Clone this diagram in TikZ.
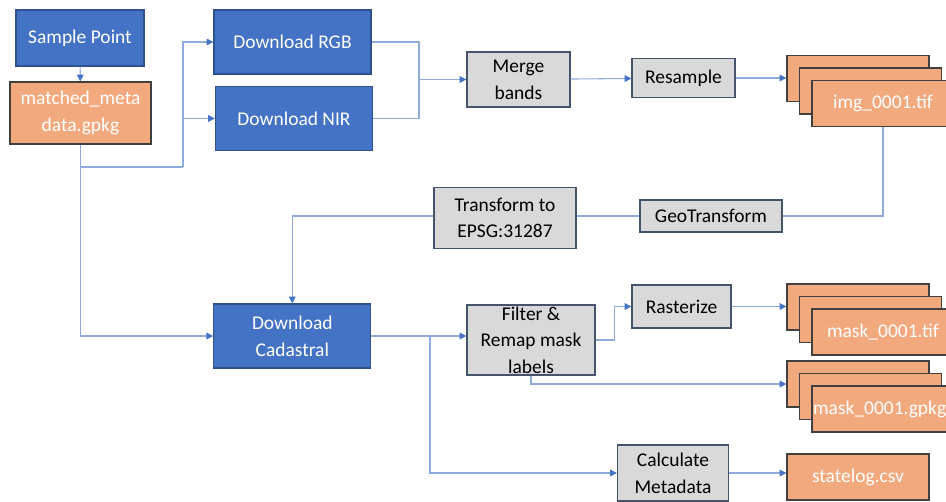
\documentclass[tikz,border=0pt]{standalone}
\usepackage{fontspec}
\setmainfont{Carlito}
\usetikzlibrary{positioning, arrows.meta}

\definecolor{bluebox}{HTML}{4472C4}
\definecolor{blueedge}{HTML}{2F528F}
\definecolor{filebox}{HTML}{F2A97E}
\definecolor{fileedge}{HTML}{404040}
\definecolor{procbox}{HTML}{D9D9D9}
\definecolor{procedge}{HTML}{44546A}
\definecolor{linec}{HTML}{8FAADC}
\definecolor{tipc}{HTML}{4472C4}

\begin{document}
\begin{tikzpicture}[
  x=0.75pt, y=-0.75pt,
  base/.style={draw, line width=1pt, inner sep=0pt, align=center, font=\fontsize{14.6}{20}\selectfont},
  src/.style={base, fill=bluebox, draw=blueedge, text=white},
  proc/.style={base, fill=procbox, draw=procedge, text=black},
  file/.style={base, fill=filebox, draw=fileedge, text=white, minimum width=106.5pt, minimum height=34.5pt},
  arr/.style={draw=linec, line width=0.8pt, -{Triangle[length=5pt, width=5pt, color=tipc]}},
  ln/.style={draw=linec, line width=0.8pt}
]
  \useasboundingbox (0,0) rectangle (946,501);

  % inputs
  \node[src, minimum width=96pt, minimum height=42pt] (sp) at (80,38) {Sample Point};
  \node[file, minimum width=105.75pt, minimum height=46.5pt] (meta) at (80.5,113) {matched\_meta\\data.gpkg};
  \node[src, minimum width=117.75pt, minimum height=48pt] (rgb) at (292.5,42) {Download RGB};
  \node[src, minimum width=117.75pt, minimum height=48pt] (nir) at (294,118.5) {Download NIR};
  \node[src, minimum width=117.75pt, minimum height=48pt] (cad) at (292.3,336) {Download\\Cadastral};

  % processing steps
  \node[proc, minimum width=77.25pt, minimum height=41.25pt] (merge) at (518.5,79.5) {Merge\\bands};
  \node[proc, minimum width=77.25pt, minimum height=29.25pt] (resamp) at (683.5,78) {Resample};
  \node[proc, minimum width=106.5pt, minimum height=45.75pt] (epsg) at (505,218) {Transform to\\EPSG:31287};
  \node[proc, minimum width=106.5pt, minimum height=24pt] (geo) at (711,216) {GeoTransform};
  \node[proc, minimum width=96pt, minimum height=52.5pt] (filt) at (531,340) {Filter \&\\Remap mask\\labels};
  \node[proc, minimum width=74.25pt, minimum height=32.25pt] (rast) at (681.5,306.5) {Rasterize};
  \node[proc, minimum width=83.25pt, minimum height=42pt] (calc) at (673,473) {Calculate\\Metadata};

  % outputs (stacked files)
  \node[file] (img3) at (858,78.5) {};
  \node[file] (img2) at (870.5,91) {};
  \node[file] (img1) at (883,103.5) {img\_0001.tif};
  \node[file] (mt3) at (858,307) {};
  \node[file] (mt2) at (870.5,319.5) {};
  \node[file] (mt1) at (883,332) {mask\_0001.tif};
  \node[file] (mg3) at (858,384) {};
  \node[file] (mg2) at (870.5,396.5) {};
  \node[file] (mg1) at (883,409) {mask\_0001.gpkg\hspace*{5pt}};
  \node[file] (csv) at (858,477) {statelog.csv};

  \coordinate (split) at (80,167);
  \coordinate (fork) at (183,167);
  \coordinate (join) at (419,79.5);
  \coordinate (calcsplit) at (430,336);

  \draw[arr] (sp) -- (meta);
  \draw[arr] (meta.south) |- (cad.west);
  \draw[ln] (split) -- (fork);
  \draw[arr] (fork) |- (rgb.west);
  \draw[arr] (fork) |- (nir.west);
  \draw[ln] (rgb.east) -| (join);
  \draw[ln] (nir.east) -| (join);
  \draw[arr] (join) -- (merge.west);
  \draw[arr] (merge) -- (resamp);
  \draw[arr] (resamp.east) -- (img3.west |- resamp.east);
  \draw[ln] (img1.south) |- (geo.east);
  \draw[ln] (geo.west) -- (epsg.east |- geo.west);
  \draw[arr] (epsg.west |- geo.west) -| (cad.north);
  \draw[arr] (cad.east) -- (filt.west |- cad.east);
  \draw[arr] (calcsplit) |- (calc.west);
  \draw[arr] (filt.east) -- ++(19,0) |- (rast.west);
  \draw[arr] (rast.east) -- (mt3.west |- rast.east);
  \draw[arr] (filt.south) |- (mg3.west);
  \draw[arr] (calc.east) -- (csv.west |- calc.east);
\end{tikzpicture}
\end{document}
